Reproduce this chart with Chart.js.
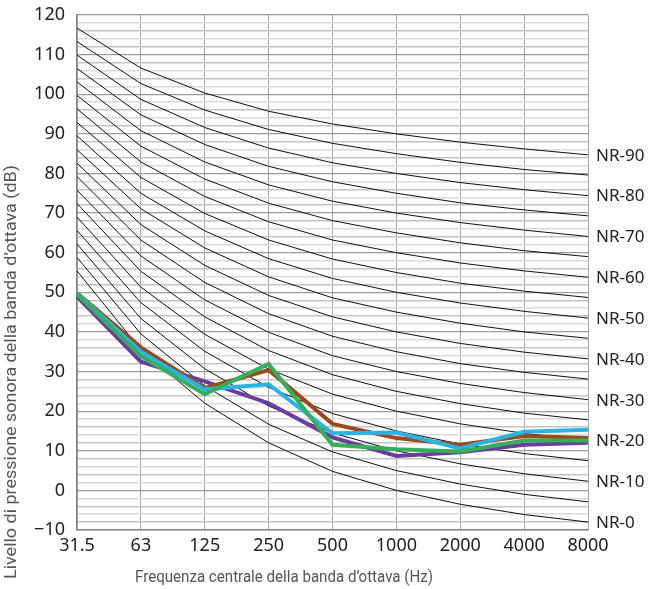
<!DOCTYPE html>
<html>
<head>
<meta charset="utf-8">
<script src="https://cdn.jsdelivr.net/npm/chart.js@4"></script>
<style>
  html, body { margin: 0; padding: 0; background: #fff; }
  #wrap { width: 652px; height: 589px; position: relative; }
</style>
</head>
<body>
<div id="wrap"><canvas id="nrChart"></canvas></div>
<script>
// Octave band centre frequencies
const frequencies = ['31.5', '63', '125', '250', '500', '1000', '2000', '4000', '8000'];

// NR curves (dB per octave band)
const nr0  = [55.4, 35.5, 22.0, 12.0,  4.8,  0, -3.5, -6.1, -8.0];
const nr5  = [58.8, 39.5, 26.4, 16.7,  9.7,  5,  1.6, -1.0, -2.9];
const nr10 = [62.2, 43.4, 30.7, 21.3, 14.5, 10,  6.7,  4.2,  2.3];
const nr15 = [65.6, 47.4, 35.1, 26.0, 19.4, 15, 11.7,  9.3,  7.5];
const nr20 = [69.0, 51.3, 39.4, 30.6, 24.3, 20, 16.8, 14.4, 12.6];
const nr25 = [72.4, 55.3, 43.8, 35.3, 29.2, 25, 21.9, 19.5, 17.8];
const nr30 = [75.8, 59.2, 48.1, 39.9, 34.0, 30, 27.0, 24.7, 22.9];
const nr35 = [79.2, 63.2, 52.5, 44.6, 38.9, 35, 32.0, 29.8, 28.1];
const nr40 = [82.6, 67.1, 56.8, 49.2, 43.8, 40, 37.1, 34.9, 33.2];
const nr45 = [86.0, 71.1, 61.2, 53.9, 48.6, 45, 42.2, 40.0, 38.4];
const nr50 = [89.5, 75.0, 65.5, 58.5, 53.5, 50, 47.3, 45.2, 43.5];
const nr55 = [92.9, 79.0, 69.9, 63.2, 58.4, 55, 52.3, 50.3, 48.7];
const nr60 = [96.3, 82.9, 74.2, 67.8, 63.2, 60, 57.4, 55.4, 53.8];
const nr65 = [99.7, 86.9, 78.6, 72.5, 68.1, 65, 62.5, 60.5, 59.0];
const nr70 = [103.1, 90.8, 82.9, 77.1, 73.0, 70, 67.6, 65.7, 64.1];
const nr75 = [106.5, 94.8, 87.3, 81.8, 77.9, 75, 72.6, 70.8, 69.3];
const nr80 = [109.9, 98.7, 91.6, 86.4, 82.7, 80, 77.7, 75.9, 74.4];
const nr85 = [113.3, 102.7, 96.0, 91.1, 87.6, 85, 82.8, 81.0, 79.6];
const nr90 = [116.7, 106.6, 100.3, 95.7, 92.5, 90, 87.9, 86.2, 84.7];

const nrCurves = [nr0, nr5, nr10, nr15, nr20, nr25, nr30, nr35, nr40, nr45,
                  nr50, nr55, nr60, nr65, nr70, nr75, nr80, nr85, nr90];
const nrNames  = ['NR-0', 'NR-5', 'NR-10', 'NR-15', 'NR-20', 'NR-25', 'NR-30', 'NR-35', 'NR-40', 'NR-45',
                  'NR-50', 'NR-55', 'NR-60', 'NR-65', 'NR-70', 'NR-75', 'NR-80', 'NR-85', 'NR-90'];
const nrLabelled = ['NR-0', 'NR-10', 'NR-20', 'NR-30', 'NR-40', 'NR-50', 'NR-60', 'NR-70', 'NR-80', 'NR-90'];

// Measured spectra
const brownSeries  = [49.8, 36.1, 25.8, 30.4, 16.8, 13.2, 11.5, 13.7, 13.2];
const blueSeries   = [49.8, 35.0, 25.5, 26.8, 14.4, 14.6, 10.6, 14.8, 15.3];
const greenSeries  = [49.5, 33.9, 24.3, 31.9, 11.5, 10.4,  9.8, 12.6, 12.6];
const purpleSeries = [48.9, 32.5, 27.5, 22.0, 13.4,  8.7,  9.6, 11.5, 12.0];

const yTicks = [-10, 0, 10, 20, 30, 40, 50, 60, 70, 80, 90, 100, 110, 120];

const yTitle = 'Livello di pressione sonora della banda d\u2019ottava (dB)';
const xTitle = 'Frequenza centrale della banda d\u2019ottava (Hz)';

const tickFont = { family: 'Noto Sans', size: 18 };

// narrow-looking title text: Roboto squeezed to a given width
function narrowText(c, text, x, y, size, width) {
  c.font = size + 'px Roboto';
  const k = width / c.measureText(text).width;
  c.save();
  c.translate(x, y);
  c.scale(k, 1);
  c.fillText(text, 0, 0);
  c.restore();
}

// NR labels on the right, plus the two axis titles
const sidePlugin = {
  id: 'sideText',
  afterDraw(chart) {
    const c = chart.ctx;
    const y = chart.scales.y;
    const area = chart.chartArea;
    c.save();
    c.fillStyle = '#222';
    c.font = '17px "Noto Sans"';
    c.textAlign = 'left';
    c.textBaseline = 'middle';
    nrCurves.forEach((curve, i) => {
      if (!nrLabelled.includes(nrNames[i])) return;
      c.fillText(nrNames[i], area.right + 8, y.getPixelForValue(curve[curve.length - 1]) + 1);
    });

    c.fillStyle = '#555';
    c.textAlign = 'center';
    narrowText(c, xTitle, 284, 578, 16, 298);

    c.translate(12, 372);
    c.rotate(-Math.PI / 2);
    narrowText(c, yTitle, 0, 0, 17, 414);
    c.restore();
  }
};

const datasets = [];
datasets.push({ data: greenSeries,  borderColor: '#34b05a', borderWidth: 4, order: 1 });
datasets.push({ data: blueSeries,   borderColor: '#2bb3e6', borderWidth: 4, order: 2 });
datasets.push({ data: brownSeries,  borderColor: '#9a4a1d', borderWidth: 4, order: 3 });
datasets.push({ data: purpleSeries, borderColor: '#6a3d9e', borderWidth: 4, order: 4 });
nrCurves.forEach((curve, i) => {
  datasets.push({ label: nrNames[i], data: curve, borderColor: '#111', borderWidth: 1, order: 10 });
});

new Chart(document.getElementById('nrChart'), {
  type: 'line',
  data: { labels: frequencies, datasets: datasets },
  options: {
    responsive: true,
    maintainAspectRatio: false,
    animation: false,
    layout: { padding: { top: 15, right: 64, left: 0, bottom: 0 } },
    elements: {
      point: { radius: 0, hoverRadius: 0 },
      line: { tension: 0, fill: false, borderJoinStyle: 'miter' }
    },
    plugins: { legend: { display: false }, tooltip: { enabled: false } },
    scales: {
      x: {
        offset: false,
        grid: { color: '#a8a8a8', lineWidth: 1, drawTicks: false },
        border: { color: '#888', width: 1.5 },
        ticks: { color: '#222', font: tickFont, padding: 5, maxRotation: 0 },
        afterFit: s => { s.height = 59; s.paddingLeft = 0; s.paddingRight = 0; }
      },
      y: {
        min: -10,
        max: 120,
        grid: {
          drawTicks: false,
          color: ctx => {
            const v = ctx.tick.value;
            if (v % 10 === 0) return '#9c9c9c';
            return (v % 4 === 0) ? '#c4c4c4' : '#dadada';
          },
          lineWidth: ctx => (ctx.tick.value % 10 === 0 ? 1.2 : 1.4)
        },
        border: { color: '#888', width: 1.5 },
        ticks: {
          stepSize: 2,
          autoSkip: false,
          color: '#222',
          font: tickFont,
          padding: 12,
          callback: v => (yTicks.includes(v) ? String(v).replace('-', '\u2212') : '')
        },
        afterFit: s => { s.width = 77; s.paddingTop = 0; s.paddingBottom = 0; }
      }
    }
  },
  plugins: [sidePlugin]
});
</script>
</body>
</html>
